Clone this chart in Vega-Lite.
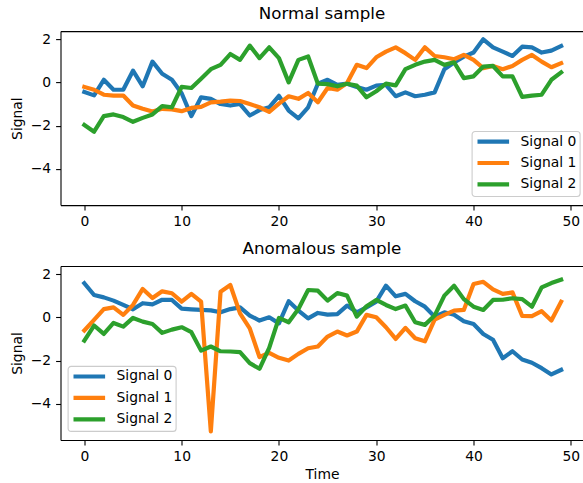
{
"$schema": "https://vega.github.io/schema/vega-lite/v6.json",
"background": "white",
"padding": {"left": 9.5, "top": 6.1, "right": 0, "bottom": 3},
"spacing": 11.9,
"config": {
  "view": {"stroke": null},
  "font": "DejaVu Sans",
  "axis": {"domainColor": "black", "domainWidth": 1.1, "tickColor": "black", "tickWidth": 1.1, "tickSize": 4.9, "labelFont": "DejaVu Sans", "labelFontSize": 13.9, "labelColor": "black", "labelPadding": 5, "titleFont": "DejaVu Sans", "titleFontSize": 13.9, "titleFontWeight": "normal", "titleColor": "black", "grid": false, "labelFlush": false, "labelOverlap": false},
  "legend": {"labelFont": "DejaVu Sans", "labelFontSize": 13.9, "labelColor": "black", "symbolType": "M-3,0L3,0", "symbolSize": 111, "symbolStrokeWidth": 4.2, "padding": 3, "rowPadding": 4.4, "symbolOffset": 11.1, "labelOffset": 19.7, "fillColor": "rgba(255,255,255,0.8)", "strokeColor": "#cccccc", "strokeWidth": 1.1, "cornerRadius": 3},
  "title": {"font": "DejaVu Sans", "fontSize": 16.7, "fontWeight": "normal", "color": "black", "offset": 8.3, "baseline": "alphabetic", "anchor": "middle"}
},
"datasets": {
"normal": [
{"t":0,"s":"Signal 0","v":-0.44},{"t":1,"s":"Signal 0","v":-0.6},{"t":2,"s":"Signal 0","v":0.12},{"t":3,"s":"Signal 0","v":-0.34},{"t":4,"s":"Signal 0","v":-0.34},{"t":5,"s":"Signal 0","v":0.54},{"t":6,"s":"Signal 0","v":-0.18},{"t":7,"s":"Signal 0","v":0.96},{"t":8,"s":"Signal 0","v":0.4},{"t":9,"s":"Signal 0","v":0.12},
{"t":10,"s":"Signal 0","v":-0.5},{"t":11,"s":"Signal 0","v":-1.56},{"t":12,"s":"Signal 0","v":-0.69},{"t":13,"s":"Signal 0","v":-0.76},{"t":14,"s":"Signal 0","v":-1.0},{"t":15,"s":"Signal 0","v":-1.07},{"t":16,"s":"Signal 0","v":-1.0},{"t":17,"s":"Signal 0","v":-1.53},{"t":18,"s":"Signal 0","v":-1.28},{"t":19,"s":"Signal 0","v":-1.15},
{"t":20,"s":"Signal 0","v":-0.62},{"t":21,"s":"Signal 0","v":-1.3},{"t":22,"s":"Signal 0","v":-1.66},{"t":23,"s":"Signal 0","v":-1.15},{"t":24,"s":"Signal 0","v":-0.06},{"t":25,"s":"Signal 0","v":0.12},{"t":26,"s":"Signal 0","v":-0.11},{"t":27,"s":"Signal 0","v":-0.06},{"t":28,"s":"Signal 0","v":-0.21},{"t":29,"s":"Signal 0","v":-0.34},
{"t":30,"s":"Signal 0","v":-0.15},{"t":31,"s":"Signal 0","v":-0.11},{"t":32,"s":"Signal 0","v":-0.64},{"t":33,"s":"Signal 0","v":-0.46},{"t":34,"s":"Signal 0","v":-0.64},{"t":35,"s":"Signal 0","v":-0.57},{"t":36,"s":"Signal 0","v":-0.46},{"t":37,"s":"Signal 0","v":0.61},{"t":38,"s":"Signal 0","v":0.92},{"t":39,"s":"Signal 0","v":1.19},
{"t":40,"s":"Signal 0","v":1.38},{"t":41,"s":"Signal 0","v":1.99},{"t":42,"s":"Signal 0","v":1.62},{"t":43,"s":"Signal 0","v":1.42},{"t":44,"s":"Signal 0","v":1.22},{"t":45,"s":"Signal 0","v":1.65},{"t":46,"s":"Signal 0","v":1.62},{"t":47,"s":"Signal 0","v":1.38},{"t":48,"s":"Signal 0","v":1.47},{"t":49,"s":"Signal 0","v":1.68},
{"t":0,"s":"Signal 1","v":-0.21},{"t":1,"s":"Signal 1","v":-0.34},{"t":2,"s":"Signal 1","v":-0.57},{"t":3,"s":"Signal 1","v":-0.61},{"t":4,"s":"Signal 1","v":-0.61},{"t":5,"s":"Signal 1","v":-1.07},{"t":6,"s":"Signal 1","v":-1.22},{"t":7,"s":"Signal 1","v":-1.35},{"t":8,"s":"Signal 1","v":-1.22},{"t":9,"s":"Signal 1","v":-1.25},
{"t":10,"s":"Signal 1","v":-1.33},{"t":11,"s":"Signal 1","v":-1.18},{"t":12,"s":"Signal 1","v":-1.13},{"t":13,"s":"Signal 1","v":-0.92},{"t":14,"s":"Signal 1","v":-0.89},{"t":15,"s":"Signal 1","v":-0.84},{"t":16,"s":"Signal 1","v":-0.86},{"t":17,"s":"Signal 1","v":-1.0},{"t":18,"s":"Signal 1","v":-1.15},{"t":19,"s":"Signal 1","v":-1.36},
{"t":20,"s":"Signal 1","v":-0.98},{"t":21,"s":"Signal 1","v":-0.64},{"t":22,"s":"Signal 1","v":-0.76},{"t":23,"s":"Signal 1","v":-0.49},{"t":24,"s":"Signal 1","v":-0.92},{"t":25,"s":"Signal 1","v":-0.26},{"t":26,"s":"Signal 1","v":-0.34},{"t":27,"s":"Signal 1","v":-0.03},{"t":28,"s":"Signal 1","v":0.81},{"t":29,"s":"Signal 1","v":0.66},
{"t":30,"s":"Signal 1","v":1.16},{"t":31,"s":"Signal 1","v":1.42},{"t":32,"s":"Signal 1","v":1.62},{"t":33,"s":"Signal 1","v":1.35},{"t":34,"s":"Signal 1","v":1.04},{"t":35,"s":"Signal 1","v":1.62},{"t":36,"s":"Signal 1","v":1.22},{"t":37,"s":"Signal 1","v":1.16},{"t":38,"s":"Signal 1","v":1.07},{"t":39,"s":"Signal 1","v":1.27},
{"t":40,"s":"Signal 1","v":1.04},{"t":41,"s":"Signal 1","v":0.66},{"t":42,"s":"Signal 1","v":0.76},{"t":43,"s":"Signal 1","v":0.61},{"t":44,"s":"Signal 1","v":0.76},{"t":45,"s":"Signal 1","v":1.04},{"t":46,"s":"Signal 1","v":1.27},{"t":47,"s":"Signal 1","v":0.96},{"t":48,"s":"Signal 1","v":0.7},{"t":49,"s":"Signal 1","v":0.89},
{"t":0,"s":"Signal 2","v":-1.97},{"t":1,"s":"Signal 2","v":-2.28},{"t":2,"s":"Signal 2","v":-1.56},{"t":3,"s":"Signal 2","v":-1.48},{"t":4,"s":"Signal 2","v":-1.6},{"t":5,"s":"Signal 2","v":-1.82},{"t":6,"s":"Signal 2","v":-1.64},{"t":7,"s":"Signal 2","v":-1.48},{"t":8,"s":"Signal 2","v":-1.1},{"t":9,"s":"Signal 2","v":-1.15},
{"t":10,"s":"Signal 2","v":-0.21},{"t":11,"s":"Signal 2","v":-0.26},{"t":12,"s":"Signal 2","v":0.17},{"t":13,"s":"Signal 2","v":0.61},{"t":14,"s":"Signal 2","v":0.81},{"t":15,"s":"Signal 2","v":1.31},{"t":16,"s":"Signal 2","v":1.04},{"t":17,"s":"Signal 2","v":1.7},{"t":18,"s":"Signal 2","v":1.12},{"t":19,"s":"Signal 2","v":1.62},
{"t":20,"s":"Signal 2","v":1.12},{"t":21,"s":"Signal 2","v":0.0},{"t":22,"s":"Signal 2","v":1.04},{"t":23,"s":"Signal 2","v":1.2},{"t":24,"s":"Signal 2","v":-0.06},{"t":25,"s":"Signal 2","v":-0.08},{"t":26,"s":"Signal 2","v":-0.18},{"t":27,"s":"Signal 2","v":-0.06},{"t":28,"s":"Signal 2","v":-0.15},{"t":29,"s":"Signal 2","v":-0.69},
{"t":30,"s":"Signal 2","v":-0.41},{"t":31,"s":"Signal 2","v":-0.06},{"t":32,"s":"Signal 2","v":-0.14},{"t":33,"s":"Signal 2","v":0.61},{"t":34,"s":"Signal 2","v":0.81},{"t":35,"s":"Signal 2","v":0.96},{"t":36,"s":"Signal 2","v":1.04},{"t":37,"s":"Signal 2","v":0.81},{"t":38,"s":"Signal 2","v":0.93},{"t":39,"s":"Signal 2","v":0.2},
{"t":40,"s":"Signal 2","v":0.28},{"t":41,"s":"Signal 2","v":0.73},{"t":42,"s":"Signal 2","v":0.76},{"t":43,"s":"Signal 2","v":0.28},{"t":44,"s":"Signal 2","v":0.28},{"t":45,"s":"Signal 2","v":-0.67},{"t":46,"s":"Signal 2","v":-0.61},{"t":47,"s":"Signal 2","v":-0.57},{"t":48,"s":"Signal 2","v":0.12},{"t":49,"s":"Signal 2","v":0.46}
],
"anom": [
{"t":0,"s":"Signal 0","v":1.57},{"t":1,"s":"Signal 0","v":1.03},{"t":2,"s":"Signal 0","v":0.92},{"t":3,"s":"Signal 0","v":0.77},{"t":4,"s":"Signal 0","v":0.57},{"t":5,"s":"Signal 0","v":0.37},{"t":6,"s":"Signal 0","v":0.65},{"t":7,"s":"Signal 0","v":0.6},{"t":8,"s":"Signal 0","v":0.81},{"t":9,"s":"Signal 0","v":0.8},
{"t":10,"s":"Signal 0","v":0.4},{"t":11,"s":"Signal 0","v":0.37},{"t":12,"s":"Signal 0","v":0.34},{"t":13,"s":"Signal 0","v":0.32},{"t":14,"s":"Signal 0","v":0.23},{"t":15,"s":"Signal 0","v":0.38},{"t":16,"s":"Signal 0","v":0.46},{"t":17,"s":"Signal 0","v":0.08},{"t":18,"s":"Signal 0","v":-0.15},{"t":19,"s":"Signal 0","v":0.0},
{"t":20,"s":"Signal 0","v":-0.28},{"t":21,"s":"Signal 0","v":0.74},{"t":22,"s":"Signal 0","v":0.31},{"t":23,"s":"Signal 0","v":-0.05},{"t":24,"s":"Signal 0","v":0.2},{"t":25,"s":"Signal 0","v":0.12},{"t":26,"s":"Signal 0","v":0.15},{"t":27,"s":"Signal 0","v":0.54},{"t":28,"s":"Signal 0","v":0.23},{"t":29,"s":"Signal 0","v":0.46},
{"t":30,"s":"Signal 0","v":0.72},{"t":31,"s":"Signal 0","v":1.46},{"t":32,"s":"Signal 0","v":0.97},{"t":33,"s":"Signal 0","v":1.08},{"t":34,"s":"Signal 0","v":0.74},{"t":35,"s":"Signal 0","v":0.49},{"t":36,"s":"Signal 0","v":0.03},{"t":37,"s":"Signal 0","v":0.23},{"t":38,"s":"Signal 0","v":0.12},{"t":39,"s":"Signal 0","v":-0.18},
{"t":40,"s":"Signal 0","v":-0.31},{"t":41,"s":"Signal 0","v":-0.77},{"t":42,"s":"Signal 0","v":-1.04},{"t":43,"s":"Signal 0","v":-1.89},{"t":44,"s":"Signal 0","v":-1.57},{"t":45,"s":"Signal 0","v":-1.95},{"t":46,"s":"Signal 0","v":-2.1},{"t":47,"s":"Signal 0","v":-2.35},{"t":48,"s":"Signal 0","v":-2.64},{"t":49,"s":"Signal 0","v":-2.43},
{"t":0,"s":"Signal 1","v":-0.61},{"t":1,"s":"Signal 1","v":-0.12},{"t":2,"s":"Signal 1","v":0.38},{"t":3,"s":"Signal 1","v":0.46},{"t":4,"s":"Signal 1","v":0.11},{"t":5,"s":"Signal 1","v":0.57},{"t":6,"s":"Signal 1","v":1.31},{"t":7,"s":"Signal 1","v":0.89},{"t":8,"s":"Signal 1","v":1.2},{"t":9,"s":"Signal 1","v":1.11},
{"t":10,"s":"Signal 1","v":0.72},{"t":11,"s":"Signal 1","v":1.08},{"t":12,"s":"Signal 1","v":0.72},{"t":13,"s":"Signal 1","v":-5.27},{"t":14,"s":"Signal 1","v":1.18},{"t":15,"s":"Signal 1","v":1.49},{"t":16,"s":"Signal 1","v":0.18},{"t":17,"s":"Signal 1","v":-0.51},{"t":18,"s":"Signal 1","v":-1.84},{"t":19,"s":"Signal 1","v":-1.64},
{"t":20,"s":"Signal 1","v":-1.87},{"t":21,"s":"Signal 1","v":-2.0},{"t":22,"s":"Signal 1","v":-1.69},{"t":23,"s":"Signal 1","v":-1.43},{"t":24,"s":"Signal 1","v":-1.35},{"t":25,"s":"Signal 1","v":-0.89},{"t":26,"s":"Signal 1","v":-0.66},{"t":27,"s":"Signal 1","v":-0.84},{"t":28,"s":"Signal 1","v":-0.66},{"t":29,"s":"Signal 1","v":0.11},
{"t":30,"s":"Signal 1","v":0.0},{"t":31,"s":"Signal 1","v":-0.46},{"t":32,"s":"Signal 1","v":-1.0},{"t":33,"s":"Signal 1","v":-0.49},{"t":34,"s":"Signal 1","v":-0.97},{"t":35,"s":"Signal 1","v":-1.11},{"t":36,"s":"Signal 1","v":-0.11},{"t":37,"s":"Signal 1","v":0.11},{"t":38,"s":"Signal 1","v":0.31},{"t":39,"s":"Signal 1","v":0.34},
{"t":40,"s":"Signal 1","v":1.54},{"t":41,"s":"Signal 1","v":1.64},{"t":42,"s":"Signal 1","v":1.29},{"t":43,"s":"Signal 1","v":1.08},{"t":44,"s":"Signal 1","v":1.15},{"t":45,"s":"Signal 1","v":0.06},{"t":46,"s":"Signal 1","v":0.05},{"t":47,"s":"Signal 1","v":0.28},{"t":48,"s":"Signal 1","v":-0.15},{"t":49,"s":"Signal 1","v":0.72},
{"t":0,"s":"Signal 2","v":-1.08},{"t":1,"s":"Signal 2","v":-0.38},{"t":2,"s":"Signal 2","v":-0.77},{"t":3,"s":"Signal 2","v":-0.26},{"t":4,"s":"Signal 2","v":-0.43},{"t":5,"s":"Signal 2","v":-0.03},{"t":6,"s":"Signal 2","v":-0.2},{"t":7,"s":"Signal 2","v":-0.31},{"t":8,"s":"Signal 2","v":-0.72},{"t":9,"s":"Signal 2","v":-0.57},
{"t":10,"s":"Signal 2","v":-0.46},{"t":11,"s":"Signal 2","v":-0.69},{"t":12,"s":"Signal 2","v":-1.54},{"t":13,"s":"Signal 2","v":-1.35},{"t":14,"s":"Signal 2","v":-1.57},{"t":15,"s":"Signal 2","v":-1.58},{"t":16,"s":"Signal 2","v":-1.61},{"t":17,"s":"Signal 2","v":-2.12},{"t":18,"s":"Signal 2","v":-2.38},{"t":19,"s":"Signal 2","v":-1.41},
{"t":20,"s":"Signal 2","v":-0.03},{"t":21,"s":"Signal 2","v":-0.23},{"t":22,"s":"Signal 2","v":0.38},{"t":23,"s":"Signal 2","v":1.26},{"t":24,"s":"Signal 2","v":1.23},{"t":25,"s":"Signal 2","v":0.77},{"t":26,"s":"Signal 2","v":1.12},{"t":27,"s":"Signal 2","v":1.0},{"t":28,"s":"Signal 2","v":0.03},{"t":29,"s":"Signal 2","v":0.51},
{"t":30,"s":"Signal 2","v":0.8},{"t":31,"s":"Signal 2","v":0.57},{"t":32,"s":"Signal 2","v":0.38},{"t":33,"s":"Signal 2","v":0.54},{"t":34,"s":"Signal 2","v":-0.23},{"t":35,"s":"Signal 2","v":-0.35},{"t":36,"s":"Signal 2","v":0.08},{"t":37,"s":"Signal 2","v":1.0},{"t":38,"s":"Signal 2","v":1.46},{"t":39,"s":"Signal 2","v":0.84},
{"t":40,"s":"Signal 2","v":0.49},{"t":41,"s":"Signal 2","v":0.34},{"t":42,"s":"Signal 2","v":0.8},{"t":43,"s":"Signal 2","v":0.81},{"t":44,"s":"Signal 2","v":0.88},{"t":45,"s":"Signal 2","v":0.84},{"t":46,"s":"Signal 2","v":0.49},{"t":47,"s":"Signal 2","v":1.38},{"t":48,"s":"Signal 2","v":1.58},{"t":49,"s":"Signal 2","v":1.74}
]
},
"resolve": {"scale": {"color": "independent"}, "legend": {"color": "independent"}},
"vconcat": [
{
  "width": 523, "height": 174,
  "title": {"text": "Normal sample"},
  "data": {"name": "normal"},
  "layer": [
    {
      "mark": {"type": "line", "strokeWidth": 4.2, "strokeJoin": "round", "strokeCap": "square"},
      "encoding": {
        "x": {"field": "t", "type": "quantitative", "scale": {"domain": [-2.45, 51.3], "nice": false, "zero": false}, "axis": {"values": [0, 10, 20, 30, 40, 50], "title": null}},
        "y": {"field": "v", "type": "quantitative", "scale": {"domain": [-5.67, 2.37], "nice": false, "zero": false}, "axis": {"values": [-4, -2, 0, 2], "title": "Signal", "titlePadding": 5.7}},
        "color": {"field": "s", "type": "nominal", "scale": {"domain": ["Signal 0", "Signal 1", "Signal 2"], "range": ["#1f77b4", "#ff7f0e", "#2ca02c"]}, "legend": {"title": null, "orient": "none", "legendX": 411.2, "legendY": 100}}
      }
    },
    {
      "data": {"values": [{"t": 0}]},
      "mark": {"type": "rule", "opacity": 0},
      "encoding": {
        "x": {"field": "t", "type": "quantitative", "scale": {"domain": [-2.45, 51.3], "nice": false, "zero": false}, "axis": {"orient": "top", "labels": false, "ticks": false, "title": null, "domain": true}}
      }
    }
  ],
  "resolve": {"axis": {"x": "independent"}}
},
{
  "width": 523, "height": 174,
  "title": {"text": "Anomalous sample"},
  "data": {"name": "anom"},
  "layer": [
    {
      "mark": {"type": "line", "strokeWidth": 4.2, "strokeJoin": "round", "strokeCap": "square"},
      "encoding": {
        "x": {"field": "t", "type": "quantitative", "scale": {"domain": [-2.45, 51.3], "nice": false, "zero": false}, "axis": {"values": [0, 10, 20, 30, 40, 50], "title": "Time", "titlePadding": 4}},
        "y": {"field": "v", "type": "quantitative", "scale": {"domain": [-5.67, 2.37], "nice": false, "zero": false}, "axis": {"values": [-4, -2, 0, 2], "title": "Signal", "titlePadding": 5.7}},
        "color": {"field": "s", "type": "nominal", "scale": {"domain": ["Signal 0", "Signal 1", "Signal 2"], "range": ["#1f77b4", "#ff7f0e", "#2ca02c"]}, "legend": {"title": null, "orient": "none", "legendX": 7.2, "legendY": 100}}
      }
    },
    {
      "data": {"values": [{"t": 0}]},
      "mark": {"type": "rule", "opacity": 0},
      "encoding": {
        "x": {"field": "t", "type": "quantitative", "scale": {"domain": [-2.45, 51.3], "nice": false, "zero": false}, "axis": {"orient": "top", "labels": false, "ticks": false, "title": null, "domain": true}}
      }
    }
  ],
  "resolve": {"axis": {"x": "independent"}}
}
]
}
